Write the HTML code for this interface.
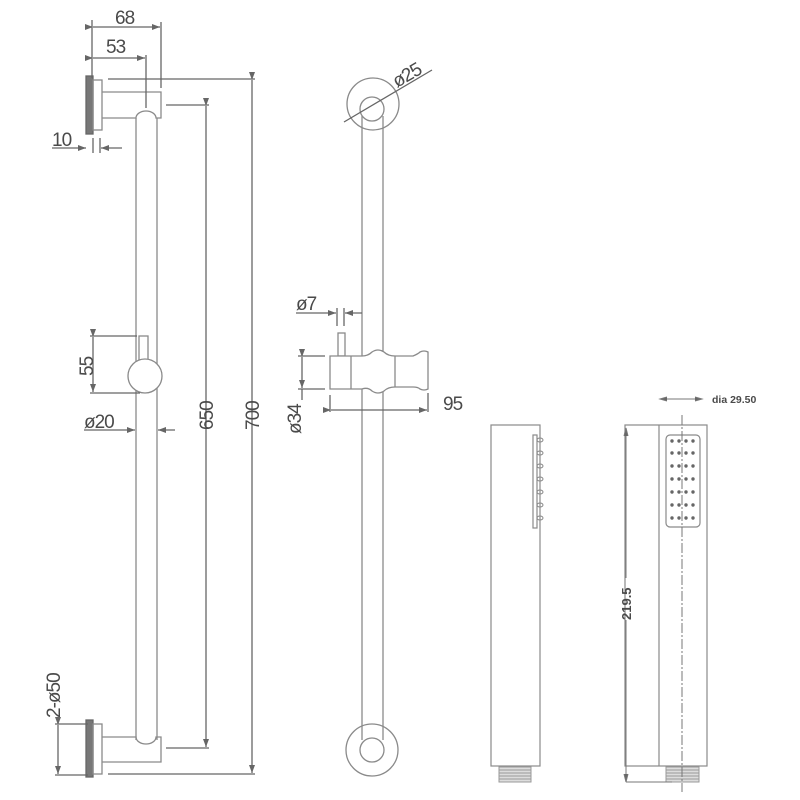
<!DOCTYPE html>
<html><head><meta charset="utf-8"><style>
html,body{margin:0;padding:0;background:#fff;}
svg{display:block;}
text{font-family:"Liberation Sans",sans-serif;fill:#4a4a4a;}
.d{font-size:19px;letter-spacing:-1px;}
</style></head><body>
<svg width="800" height="800" viewBox="0 0 800 800" xmlns="http://www.w3.org/2000/svg">
<defs>
<marker id="a" markerWidth="8" markerHeight="6" refX="8" refY="3" orient="auto" markerUnits="userSpaceOnUse"><path d="M0,0 L8,3 L0,6 z" fill="#666"/></marker>
</defs>
<g stroke="#8a8a8a" stroke-width="1.3" fill="none">
<rect x="86" y="76" width="7" height="58" fill="#777" stroke="#666"/>
<rect x="93" y="80" width="9" height="50"/>
<path d="M102,92 H161 V118 H156 A10,7 0 0 0 136,118 H102"/>
<line x1="136" y1="118" x2="136" y2="740"/>
<line x1="157" y1="118" x2="157" y2="740"/>
<rect x="86" y="720" width="7" height="57" fill="#777" stroke="#666"/>
<rect x="93" y="724" width="9" height="50"/>
<path d="M102,737 H136 A10,7 0 0 0 156,737 H161 V762 H102"/>
<rect x="139" y="336" width="9" height="24"/>
<circle cx="145" cy="376" r="17" fill="#fff"/>
</g>
<g stroke="#666" stroke-width="1.3" fill="none">
<line x1="92" y1="20" x2="92" y2="78"/>
<line x1="161" y1="22" x2="161" y2="88"/>
<line x1="93" y1="27" x2="160" y2="27" marker-start="url(#a)" marker-end="url(#a)"/>
<line x1="146" y1="55" x2="146" y2="108"/>
<line x1="93" y1="58" x2="145" y2="58" marker-start="url(#a)" marker-end="url(#a)"/>
<line x1="108" y1="79" x2="255" y2="79"/>
<line x1="252" y1="80" x2="252" y2="773" marker-start="url(#a)" marker-end="url(#a)"/>
<line x1="108" y1="774" x2="255" y2="774"/>
<line x1="166" y1="105" x2="209" y2="105"/>
<line x1="206" y1="106" x2="206" y2="747" marker-start="url(#a)" marker-end="url(#a)"/>
<line x1="166" y1="748" x2="209" y2="748"/>
<line x1="52" y1="148" x2="86" y2="148" marker-end="url(#a)"/>
<line x1="93" y1="138" x2="93" y2="153"/>
<line x1="100" y1="138" x2="100" y2="153"/>
<line x1="122" y1="148" x2="101" y2="148" marker-end="url(#a)"/>
<line x1="90" y1="336" x2="137" y2="336"/>
<line x1="90" y1="393" x2="140" y2="393"/>
<line x1="93" y1="337" x2="93" y2="392" marker-start="url(#a)" marker-end="url(#a)"/>
<line x1="84" y1="430" x2="135" y2="430" marker-end="url(#a)"/>
<line x1="175" y1="430" x2="158" y2="430" marker-end="url(#a)"/>
<line x1="55" y1="724" x2="88" y2="724"/>
<line x1="55" y1="775" x2="88" y2="775"/>
<line x1="58" y1="725" x2="58" y2="774" marker-start="url(#a)" marker-end="url(#a)"/>
</g>
<g class="d">
<text x="115" y="24">68</text>
<text x="106" y="53">53</text>
<text x="52" y="146">10</text>
<text x="84" y="428">ø20</text>
<text transform="translate(93,376) rotate(-90)">55</text>
<text transform="translate(213,430) rotate(-90)">650</text>
<text transform="translate(259,430) rotate(-90)">700</text>
<text transform="translate(60,718) rotate(-90)">2-ø50</text>
</g>

<g stroke="#8a8a8a" stroke-width="1.3" fill="none">
<circle cx="373" cy="104" r="26"/>
<circle cx="372" cy="109" r="12"/>
<line x1="362" y1="116" x2="362" y2="740"/>
<line x1="383" y1="116" x2="383" y2="740"/>
<circle cx="372" cy="750" r="26"/>
<circle cx="372" cy="750" r="12" fill="#fff"/>
<rect x="338" y="333" width="7" height="23"/>
<path d="M330,356 H362 Q368,356 372,352 Q378,348 384,352 Q388,356 395,356 H413 Q418,354 420,352 Q424,350 428,352 V389 Q424,391 420,389 Q418,387 413,387 H395 Q388,387 384,391 Q378,395 372,391 Q368,387 362,389 H330 Z" fill="#fff"/>
<line x1="351" y1="356" x2="351" y2="389"/>
<line x1="395" y1="356" x2="395" y2="387"/>
</g>
<g stroke="#666" stroke-width="1.3" fill="none">
<line x1="344" y1="122" x2="432" y2="70"/>
<line x1="296" y1="313" x2="336" y2="313" marker-end="url(#a)"/>
<line x1="337" y1="308" x2="337" y2="326"/>
<line x1="344" y1="308" x2="344" y2="326"/>
<line x1="362" y1="313" x2="345" y2="313" marker-end="url(#a)"/>
<line x1="298" y1="356" x2="325" y2="356"/>
<line x1="298" y1="389" x2="325" y2="389"/>
<line x1="302" y1="357" x2="302" y2="388" marker-start="url(#a)" marker-end="url(#a)"/>
<line x1="302" y1="389" x2="302" y2="400"/>
<line x1="330" y1="395" x2="330" y2="412"/>
<line x1="428" y1="393" x2="428" y2="412"/>
<line x1="331" y1="410" x2="427" y2="410" marker-start="url(#a)" marker-end="url(#a)"/>
</g>
<g class="d">
<text transform="translate(397,88) rotate(-30)">ø25</text>
<text x="296" y="310">ø7</text>
<text x="443" y="410">95</text>
<text transform="translate(301,434) rotate(-90)">ø34</text>
</g>

<g stroke="#8a8a8a" stroke-width="1.2" fill="none">
<rect x="491" y="425" width="49" height="341"/>
<rect x="533" y="435" width="4" height="93"/>
<g stroke-width="1">
<ellipse cx="540" cy="440" rx="3" ry="2"/><ellipse cx="540" cy="453" rx="3" ry="2"/>
<ellipse cx="540" cy="466" rx="3" ry="2"/><ellipse cx="540" cy="479" rx="3" ry="2"/>
<ellipse cx="540" cy="492" rx="3" ry="2"/><ellipse cx="540" cy="505" rx="3" ry="2"/>
<ellipse cx="540" cy="518" rx="3" ry="2"/>
</g>
<rect x="625" y="425" width="82" height="341"/>
<line x1="659" y1="425" x2="659" y2="766"/>
<rect x="666" y="435" width="34" height="92" rx="4"/>
</g>
<g stroke="#999" stroke-width="1">
<rect x="499" y="767" width="32" height="15" fill="#ddd"/>
<rect x="666" y="767" width="33" height="15" fill="#ddd"/>
<path d="M499,770H531M499,773H531M499,776H531M499,779H531M666,770H699M666,773H699M666,776H699M666,779H699"/>
</g>
<g fill="#666">
<circle cx="672" cy="441" r="1.7"/><circle cx="679" cy="441" r="1.7"/><circle cx="686" cy="441" r="1.7"/><circle cx="693" cy="441" r="1.7"/>
<circle cx="672" cy="453" r="1.7"/><circle cx="679" cy="453" r="1.7"/><circle cx="686" cy="453" r="1.7"/><circle cx="693" cy="453" r="1.7"/>
<circle cx="672" cy="466" r="1.7"/><circle cx="679" cy="466" r="1.7"/><circle cx="686" cy="466" r="1.7"/><circle cx="693" cy="466" r="1.7"/>
<circle cx="672" cy="479" r="1.7"/><circle cx="679" cy="479" r="1.7"/><circle cx="686" cy="479" r="1.7"/><circle cx="693" cy="479" r="1.7"/>
<circle cx="672" cy="492" r="1.7"/><circle cx="679" cy="492" r="1.7"/><circle cx="686" cy="492" r="1.7"/><circle cx="693" cy="492" r="1.7"/>
<circle cx="672" cy="505" r="1.7"/><circle cx="679" cy="505" r="1.7"/><circle cx="686" cy="505" r="1.7"/><circle cx="693" cy="505" r="1.7"/>
<circle cx="672" cy="518" r="1.7"/><circle cx="679" cy="518" r="1.7"/><circle cx="686" cy="518" r="1.7"/><circle cx="693" cy="518" r="1.7"/>
</g>
<g stroke="#777" stroke-width="1" fill="none">
<line x1="682" y1="415" x2="682" y2="792" stroke-dasharray="10,2,2,2"/>
<line x1="626" y1="430" x2="626" y2="578"/>
<line x1="626" y1="620" x2="626" y2="782"/>
<line x1="626" y1="782" x2="672" y2="782"/>
<path d="M624,436 L626,428 L628,436" fill="#666"/>
<path d="M624,774 L626,782 L628,774" fill="#666"/>
<line x1="660" y1="399" x2="702" y2="399"/>
<path d="M667,397 L660,399 L667,401 M695,397 L702,399 L695,401" fill="#666"/>
</g>
<text x="712" y="403" font-size="10.5" font-weight="bold" fill="#666">dia 29.50</text>
<text transform="translate(631,620) rotate(-90)" font-size="13" font-weight="bold" fill="#444">219.5</text>
</svg>
</body></html>
